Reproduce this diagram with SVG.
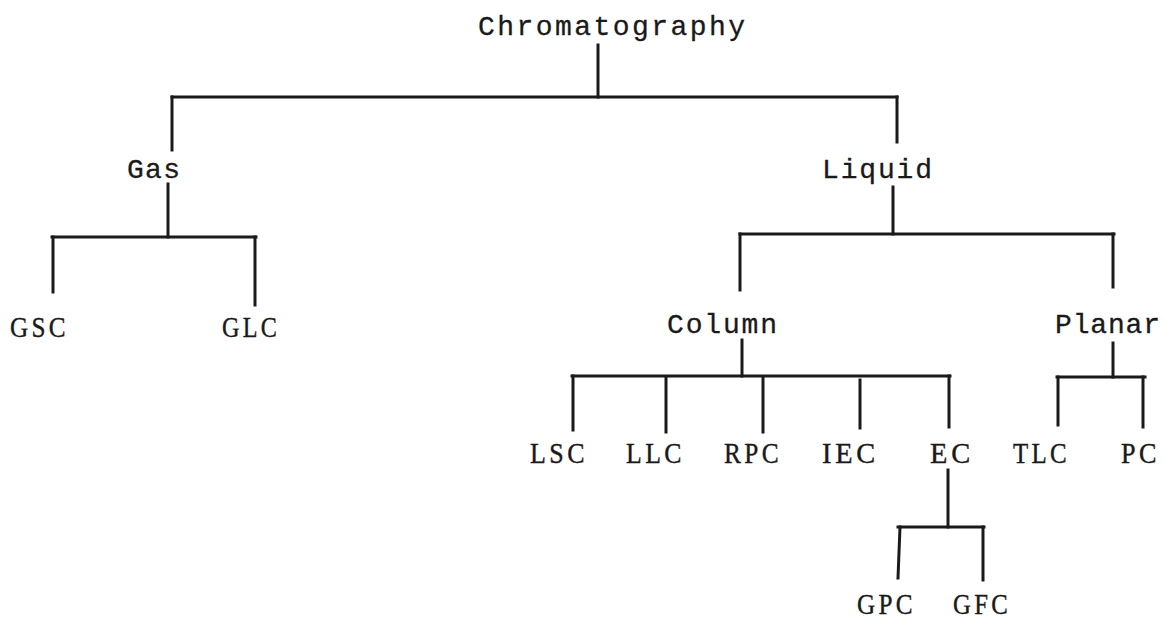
<svg xmlns="http://www.w3.org/2000/svg" width="1165" height="619" viewBox="0 0 1165 619">
<style>
.w{font-family:"Liberation Mono","DejaVu Sans Mono",monospace;font-size:28px;fill:#1a1a1a;stroke:#1a1a1a;stroke-width:0.3}
.a{font-family:"Liberation Serif","DejaVu Serif",serif;font-size:30px;fill:#1a1a1a;stroke:#1a1a1a;stroke-width:0.4;letter-spacing:4px}
.c line{stroke:#1a1a1a;stroke-width:3;stroke-linecap:square}
</style>
<rect width="1165" height="619" fill="#ffffff"/>
<g class="c" id="connectors">
<line x1="598" y1="45" x2="598" y2="97"/>
<line x1="172" y1="97" x2="897" y2="97"/>
<line x1="172" y1="97" x2="172" y2="150"/>
<line x1="897" y1="97" x2="897" y2="142"/>
<line x1="168" y1="184" x2="168" y2="237"/>
<line x1="52" y1="237" x2="256" y2="237"/>
<line x1="53" y1="237" x2="53" y2="292"/>
<line x1="255" y1="237" x2="255" y2="305"/>
<line x1="893" y1="187" x2="893" y2="234"/>
<line x1="740" y1="234" x2="1114" y2="234"/>
<line x1="740" y1="234" x2="740" y2="290"/>
<line x1="1113" y1="234" x2="1113" y2="287"/>
<line x1="742" y1="340" x2="742" y2="376"/>
<line x1="572" y1="376" x2="950" y2="376"/>
<line x1="573" y1="376" x2="573" y2="430"/>
<line x1="666" y1="378" x2="666" y2="432"/>
<line x1="763" y1="378" x2="763" y2="432"/>
<line x1="860" y1="380" x2="860" y2="428"/>
<line x1="949" y1="376" x2="949" y2="427"/>
<line x1="1113" y1="343" x2="1113" y2="377"/>
<line x1="1057" y1="377" x2="1145" y2="377"/>
<line x1="1058" y1="377" x2="1058" y2="425"/>
<line x1="1143" y1="377" x2="1143" y2="427"/>
<line x1="948" y1="470" x2="948" y2="527"/>
<line x1="898" y1="527" x2="984" y2="527"/>
<line x1="900" y1="527" x2="898" y2="578"/>
<line x1="983" y1="527" x2="983" y2="580"/>
</g>
<g id="n-chromatography"><text class="w" x="478" y="35" textLength="267" lengthAdjust="spacing">Chromatography</text></g>
<g id="n-gas"><text class="w" x="127" y="178" textLength="53" lengthAdjust="spacing">Gas</text></g>
<g id="n-liquid"><text class="w" x="822" y="178" textLength="110" lengthAdjust="spacing">Liquid</text></g>
<g id="n-column"><text class="w" x="667" y="333" textLength="110" lengthAdjust="spacing">Column</text></g>
<g id="n-planar"><text class="w" x="1055" y="333" textLength="105" lengthAdjust="spacing">Planar</text></g>
<g id="n-gsc"><text class="a" x="10" y="337" textLength="59" lengthAdjust="spacingAndGlyphs">GSC</text></g>
<g id="n-glc"><text class="a" x="222" y="337" textLength="58" lengthAdjust="spacingAndGlyphs">GLC</text></g>
<g id="n-lsc"><text class="a" x="530" y="463" textLength="58" lengthAdjust="spacingAndGlyphs">LSC</text></g>
<g id="n-llc"><text class="a" x="626" y="463" textLength="59" lengthAdjust="spacingAndGlyphs">LLC</text></g>
<g id="n-rpc"><text class="a" x="724" y="463" textLength="58" lengthAdjust="spacingAndGlyphs">RPC</text></g>
<g id="n-iec"><text class="a" x="822" y="463" textLength="57" lengthAdjust="spacingAndGlyphs">IEC</text></g>
<g id="n-ec"><text class="a" x="930" y="463" textLength="44" lengthAdjust="spacingAndGlyphs">EC</text></g>
<g id="n-tlc"><text class="a" x="1013" y="463" textLength="57" lengthAdjust="spacingAndGlyphs">TLC</text></g>
<g id="n-pc"><text class="a" x="1121" y="463" textLength="39" lengthAdjust="spacingAndGlyphs">PC</text></g>
<g id="n-gpc"><text class="a" x="857" y="614" textLength="59" lengthAdjust="spacingAndGlyphs">GPC</text></g>
<g id="n-gfc"><text class="a" x="953" y="614" textLength="58" lengthAdjust="spacingAndGlyphs">GFC</text></g>
</svg>
